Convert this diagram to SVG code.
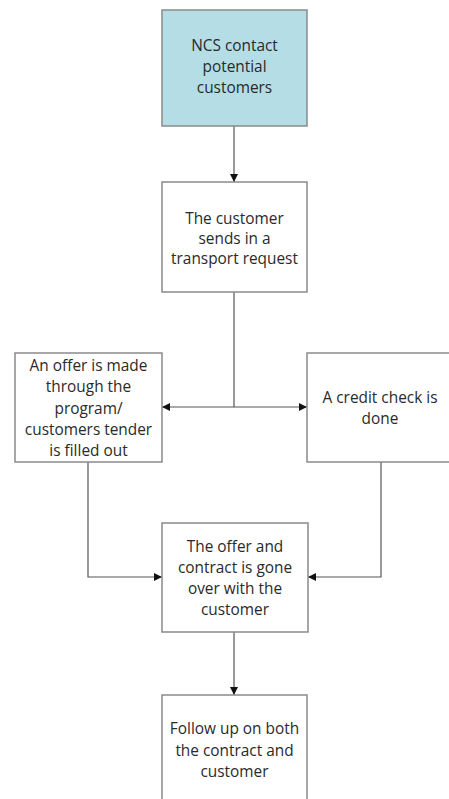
<svg xmlns="http://www.w3.org/2000/svg" width="449" height="799" viewBox="0 0 449 799">
  <defs>
    <marker id="arrow" viewBox="0 0 10 10" refX="10" refY="5" markerWidth="8" markerHeight="8" markerUnits="userSpaceOnUse" orient="auto">
      <path d="M0,0 L10,5 L0,10 z" fill="#111"/>
    </marker>
    <style>
      .box { fill: #ffffff; stroke: #8a8a8a; stroke-width: 1.5; }
      .start { fill: #b4dde6; }
      .label { font-family: "Open Sans", "Noto Sans", sans-serif; font-size: 15.4px; fill: #2a2a2a; text-anchor: middle; dominant-baseline: central; }
      .wire { fill: none; stroke: #555555; stroke-width: 1.2; }
    </style>
  </defs>
  <rect width="449" height="799" fill="#ffffff"/>

  <g id="connectors">
    <path class="wire" d="M234,126 V182" marker-end="url(#arrow)"/>
    <path class="wire" d="M234,292 V407"/>
    <path class="wire" d="M234,407 H162" marker-end="url(#arrow)"/>
    <path class="wire" d="M234,407 H307" marker-end="url(#arrow)"/>
    <path class="wire" d="M88,462 V577 H162" marker-end="url(#arrow)"/>
    <path class="wire" d="M381,462 V577 H308" marker-end="url(#arrow)"/>
    <path class="wire" d="M234,632 V695" marker-end="url(#arrow)"/>
  </g>

  <g id="node-contact">
    <rect class="box start" x="162" y="10" width="145" height="116"/>
    <text class="label" x="234.5" y="45">NCS contact</text>
    <text class="label" x="234.5" y="66">potential</text>
    <text class="label" x="234.5" y="87">customers</text>
  </g>

  <g id="node-request">
    <rect class="box" x="162" y="182" width="145" height="110"/>
    <text class="label" x="234.5" y="218">The customer</text>
    <text class="label" x="234.5" y="238">sends in a</text>
    <text class="label" x="234.5" y="258">transport request</text>
  </g>

  <g id="node-offer">
    <rect class="box" x="15" y="353" width="147" height="109"/>
    <text class="label" x="88.5" y="365">An offer is made</text>
    <text class="label" x="88.5" y="386">through the</text>
    <text class="label" x="88.5" y="408">program/</text>
    <text class="label" x="88.5" y="429">customers tender</text>
    <text class="label" x="88.5" y="450">is filled out</text>
  </g>

  <g id="node-credit">
    <rect class="box" x="307" y="353" width="146" height="109"/>
    <text class="label" x="380" y="397">A credit check is</text>
    <text class="label" x="380" y="418">done</text>
  </g>

  <g id="node-contract">
    <rect class="box" x="162" y="523" width="146" height="109"/>
    <text class="label" x="235" y="546">The offer and</text>
    <text class="label" x="235" y="567">contract is gone</text>
    <text class="label" x="235" y="588">over with the</text>
    <text class="label" x="235" y="609">customer</text>
  </g>

  <g id="node-follow">
    <rect class="box" x="162" y="695" width="145" height="110"/>
    <text class="label" x="234.5" y="728">Follow up on both</text>
    <text class="label" x="234.5" y="750">the contract and</text>
    <text class="label" x="234.5" y="771">customer</text>
  </g>
</svg>
